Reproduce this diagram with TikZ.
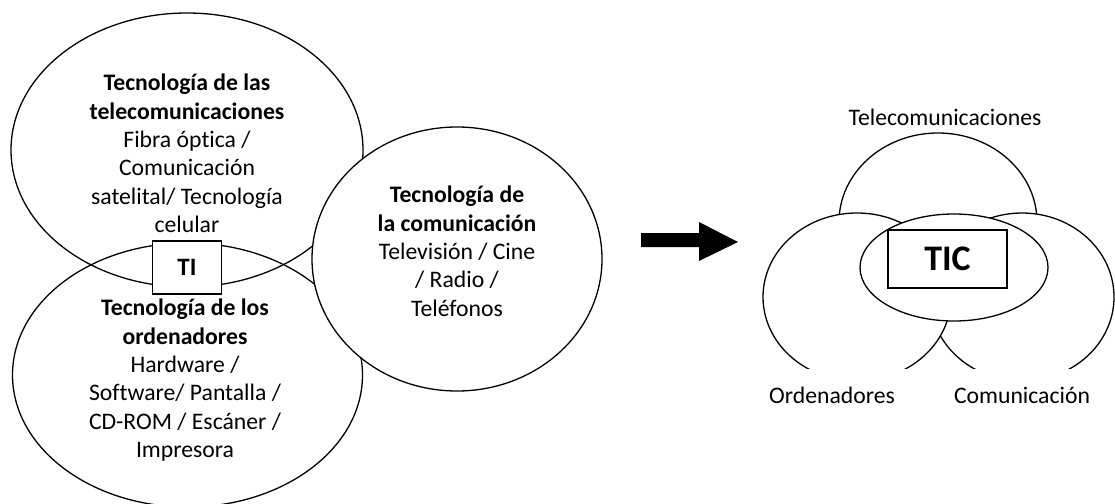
\documentclass[tikz,border=0pt]{standalone}
\usepackage{fontspec}
\setmainfont{Carlito}[Ligatures=NoCommon]
\usetikzlibrary{shapes.geometric}
\begin{document}
\begin{tikzpicture}[x=1pt,y=-1pt,
  shp/.style={ellipse, draw, line width=1.3pt, inner sep=0pt, outer sep=0pt},
  txt/.style={font=\fontsize{23.7}{28.3}\selectfont, align=center, inner sep=0pt},
  lbl/.style={font=\fontsize{23.7}{28.5}\selectfont, inner sep=0pt},
  tbox/.style={draw, fill=white, line width=1.3pt, inner sep=0pt}]
\useasboundingbox (0,0) rectangle (1115,503);
% left group
\node[shp, minimum width=352pt, minimum height=274pt] (tele) at (187,150) {};
\node[shp, minimum width=350pt, minimum height=264pt] (orde) at (187.5,375) {};
\node[shp, fill=white, minimum width=290pt, minimum height=264pt] (comu) at (457,259) {};
\node[tbox, minimum width=69pt, minimum height=53pt, font=\bfseries\fontsize{25}{28}\selectfont] (ti) at (187,267.5) {TI};
\node[txt, anchor=north] (teletxt) at (187,74) {\textbf{Tecnología de las}\\\textbf{telecomunicaciones}\\Fibra óptica /\\Comunicación\\satelital/ Tecnología\\celular};
\node[txt, anchor=north] (ordetxt) at (185,299) {\textbf{Tecnología de los}\\\textbf{ordenadores}\\Hardware /\\Software/ Pantalla /\\CD-ROM / Escáner /\\Impresora};
\node[txt, anchor=north] (comutxt) at (457,186) {\textbf{Tecnología de}\\\textbf{la comunicación}\\Televisión / Cine\\/ Radio /\\Teléfonos};
% block arrow
\fill (641,233) -- (699,233) -- (699,222) -- (738,242) -- (699,261) -- (699,247) -- (641,247) -- cycle;
% right group
\begin{scope}
\clip (740,0) rectangle (1115,368);
\node[shp, fill=white, minimum width=198pt, minimum height=178pt] (ttop) at (938,222) {};
\node[shp, fill=white, minimum width=184pt, minimum height=168pt] (tcom) at (1022,297) {};
\node[shp, fill=white, minimum width=188pt, minimum height=168pt] (tord) at (857,297) {};
\end{scope}
\node[shp, fill=white, minimum width=188pt, minimum height=107pt] (tic) at (954,267.5) {};
\node[tbox, minimum width=119pt, minimum height=58pt, font=\bfseries\fontsize{36}{40}\selectfont] (ticbox) at (947.5,259) {TIC};
\node[lbl, anchor=base] (ltele) at (945,125) {Telecomunicaciones};
\node[lbl, anchor=base] (lorde) at (832,403) {Ordenadores};
\node[lbl, anchor=base] (lcomu) at (1022,403) {Comunicación};
\end{tikzpicture}
\end{document}
